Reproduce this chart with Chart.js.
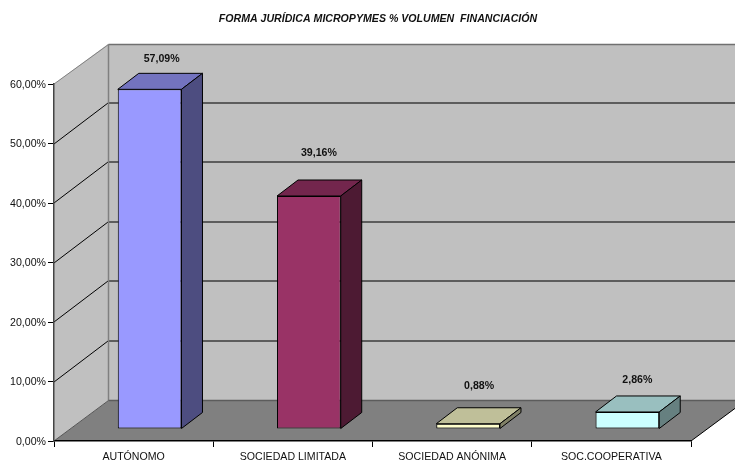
<!DOCTYPE html>
<html>
<head>
<meta charset="utf-8">
<style>
html, body { margin: 0; padding: 0; background: #fff; }
canvas { display: block; }
</style>
<script src="https://cdn.jsdelivr.net/npm/chart.js@4"></script>
</head>
<body>
<canvas id="chart" width="735" height="462"></canvas>
<script>
const categories = ['AUTÓNOMO', 'SOCIEDAD LIMITADA', 'SOCIEDAD ANÓNIMA', 'SOC.COOPERATIVA'];
const values = [57.09, 39.16, 0.88, 2.86];
const valueLabels = ['57,09%', '39,16%', '0,88%', '2,86%'];

const frontColors = ['#9999ff', '#993366', '#ffffcc', '#ccffff'];
const topColors = ['#7373bf', '#73264d', '#bfbf99', '#99bfbf'];
const sideColors = ['#4d4d80', '#4d1a33', '#808066', '#668080'];

// excel 3d look: depth of the whole box, and where the bars sit inside it
const box = { dx: 54, dy: -40 };
const barShift = { dx: 16, dy: -12 };
const barDepth = { dx: 21, dy: -16 };
// the value labels were placed by hand in the original
const labelNudge = [[12, -30], [10, -43], [11, -38], [10, -32]];

function poly(ctx, pts, fill, stroke) {
    ctx.beginPath();
    pts.forEach((p, i) => i ? ctx.lineTo(p[0], p[1]) : ctx.moveTo(p[0], p[1]));
    ctx.closePath();
    if (fill) { ctx.fillStyle = fill; ctx.fill(); }
    if (stroke) { ctx.strokeStyle = stroke; ctx.lineWidth = 1; ctx.stroke(); }
}

function line(ctx, x1, y1, x2, y2, color, width) {
    ctx.beginPath();
    ctx.moveTo(x1, y1);
    ctx.lineTo(x2, y2);
    ctx.strokeStyle = color;
    ctx.lineWidth = width;
    ctx.stroke();
}

const walls3d = {
    id: 'walls3d',
    beforeDraw(chart) {
        const ctx = chart.ctx;
        const a = chart.chartArea;
        const yScale = chart.scales.y;
        const d = box;
        // title sits a bit right of the canvas middle
        chart.titleBlock.left = 65;
        ctx.save();
        // back wall, left wall, floor
        poly(ctx, [[a.left + d.dx, a.top + d.dy], [a.right + d.dx, a.top + d.dy], [a.right + d.dx, a.bottom + d.dy], [a.left + d.dx, a.bottom + d.dy]], '#c0c0c0');
        poly(ctx, [[a.left, a.top], [a.left + d.dx, a.top + d.dy], [a.left + d.dx, a.bottom + d.dy], [a.left, a.bottom]], '#c0c0c0');
        poly(ctx, [[a.left, a.bottom], [a.right, a.bottom], [a.right + d.dx, a.bottom + d.dy], [a.left + d.dx, a.bottom + d.dy]], '#808080');
        // grid lines on the walls
        yScale.ticks.forEach(t => {
            const y = Math.round(yScale.getPixelForValue(t.value));
            if (t.value > 0 && t.value < 60) {
                line(ctx, a.left, y, a.left + d.dx, y + d.dy - 1, '#000', 1);
                line(ctx, a.left + d.dx, y + d.dy - 1, a.right + d.dx, y + d.dy - 1, '#3c3c3c', 1.5);
            }
        });
        // wall edges
        const gx = a.left + d.dx + 0.5;
        const ty = a.top + d.dy + 0.5;
        const by = a.bottom + d.dy - 0.5;
        line(ctx, a.left, a.top, gx, ty, '#808080', 1);
        line(ctx, gx, ty, a.right + d.dx, ty, '#707070', 1.5);
        line(ctx, gx, ty, gx, by, '#808080', 1.5);
        line(ctx, gx, by, a.right + d.dx, by, '#5c5c5c', 1.5);
        line(ctx, a.left, a.bottom, gx, by, '#555555', 1);
        line(ctx, a.right, a.bottom, a.right + d.dx, a.bottom + d.dy, '#000', 1);
        ctx.restore();
    },
    beforeDatasetsDraw(chart) {
        chart.ctx.save();
        chart.ctx.translate(barShift.dx, barShift.dy);
    },
    afterDatasetsDraw(chart) {
        const ctx = chart.ctx;
        const d = barDepth;
        chart.getDatasetMeta(0).data.forEach((bar, i) => {
            const l = bar.x - bar.width / 2;
            const r = bar.x + bar.width / 2;
            const t = bar.y;
            const b = bar.base;
            poly(ctx, [[l, t], [r, t], [r + d.dx, t + d.dy], [l + d.dx, t + d.dy]], topColors[i], '#000');
            poly(ctx, [[r, t], [r + d.dx, t + d.dy], [r + d.dx, b + d.dy], [r, b]], sideColors[i], '#000');
        });
        ctx.restore();
        ctx.save();
        ctx.font = 'bold 10.6px "Liberation Sans", Arial, sans-serif';
        ctx.fillStyle = '#111';
        ctx.textAlign = 'center';
        ctx.textBaseline = 'middle';
        chart.getDatasetMeta(0).data.forEach((bar, i) => {
            const cx = bar.x + barShift.dx + labelNudge[i][0];
            const cy = bar.y + barShift.dy + labelNudge[i][1];
            ctx.fillText(valueLabels[i], cx, cy);
        });
        ctx.restore();
    }
};

new Chart(document.getElementById('chart'), {
    type: 'bar',
    data: {
        labels: categories,
        datasets: [{
            data: values,
            backgroundColor: frontColors,
            borderColor: '#000',
            borderWidth: 1,
            borderSkipped: false,
            barPercentage: 0.4,
            categoryPercentage: 1,
            clip: false
        }]
    },
    options: {
        responsive: false,
        animation: false,
        devicePixelRatio: 1,
        layout: { padding: { top: 0, right: 44, left: 0, bottom: 0 } },
        plugins: {
            legend: { display: false },
            tooltip: { enabled: false },
            title: {
                display: true,
                text: 'FORMA JURÍDICA MICROPYMES % VOLUMEN  FINANCIACIÓN',
                color: '#111',
                font: { family: '"Liberation Sans", Arial, sans-serif', size: 10.6, weight: 'bold', style: 'italic' },
                padding: { top: 13, bottom: 58.3 }
            }
        },
        scales: {
            x: {
                afterFit(s) { s.height = 21; },
                border: { color: '#000', width: 1.5 },
                grid: { drawOnChartArea: false, color: '#000', tickLength: 6 },
                ticks: {
                    color: '#111',
                    maxRotation: 0,
                    padding: 4,
                    font: { family: '"Liberation Sans", Arial, sans-serif', size: 10.6 }
                }
            },
            y: {
                min: 0,
                max: 60,
                afterFit(s) { s.width = 54; },
                border: { color: '#444', width: 1.5 },
                grid: { drawOnChartArea: false, color: '#000', tickLength: 6 },
                ticks: {
                    stepSize: 10,
                    color: '#111',
                    padding: 2,
                    labelOffset: 1,
                    font: { family: '"Liberation Sans", Arial, sans-serif', size: 10.6 },
                    callback: v => v.toFixed(2).replace('.', ',') + '%'
                }
            }
        }
    },
    plugins: [walls3d]
});
</script>
</body>
</html>
